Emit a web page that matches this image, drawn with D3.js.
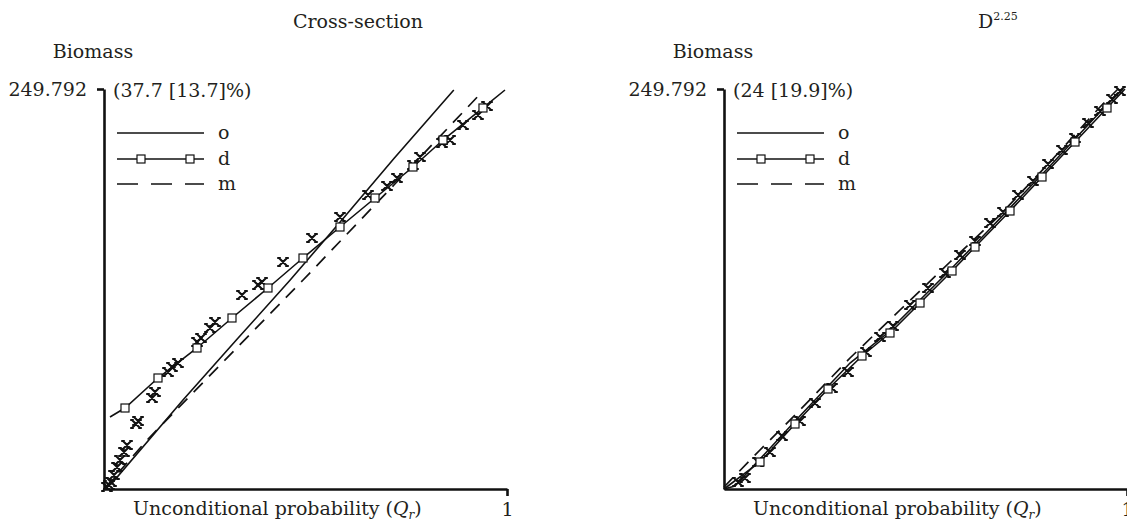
<!DOCTYPE html>
<html>
<head>
<meta charset="utf-8">
<script src="https://cdn.jsdelivr.net/npm/d3@7"></script>
<style>
  html, body { margin: 0; padding: 0; background: #fff; }
  svg text { font-family: "DejaVu Serif", "Liberation Serif", serif; fill: #231f20; }
</style>
</head>
<body>
<svg id="chart" width="1127" height="522"></svg>
<script>
// ---- data: [probability Q_r, biomass] ----
const yMax = 249.792;
const panelTitles = ["Cross-section", "D"];
const panelTitleSup = ["", "2.25"];
const panelStats = ["(37.7 [13.7]%)", "(24 [19.9]%)"];
const seriesNames = ["o", "d", "m"];
const xTickLabels = ["1"];

// Cross-section panel
const csObserved = [[0,0],[0.020,3.7],[0.196,55.6],[0.33,93.5],[0.462,130.5],[0.586,166.8],[0.72,206.5],[0.868,249.2]];
const csDist = [[0.0149,44.96],[0.0521,50.58],[0.1340,69.32],[0.2308,88.05],[0.3176,106.79],[0.4069,125.52],[0.4938,144.25],[0.5856,163.61],[0.6725,181.72],[0.7667,201.08],[0.8412,217.94],[0.9404,237.93],[0.9950,249.17]];
const csModel = [[0,0],[0.107,30.6],[0.300,80.5],[0.494,130.5],[0.720,190.0],[0.938,247.9]];
const csPoints = [[0.0074,1.25],[0.0124,2.50],[0.0174,4.37],[0.0248,8.74],[0.0323,13.74],[0.0397,18.11],[0.0496,23.11],[0.0571,27.48],[0.0794,40.59],[0.0844,42.46],[0.1191,56.83],[0.1266,60.57],[0.1588,73.06],[0.1687,76.19],[0.1836,78.68],[0.2308,91.80],[0.2407,94.30],[0.2630,100.54],[0.2754,104.29],[0.3424,121.15],[0.3821,127.39],[0.3921,129.27],[0.4442,141.76],[0.5161,156.74],[0.5856,169.86],[0.6551,183.60],[0.7022,189.22],[0.7270,194.21],[0.7667,202.33],[0.7841,207.33],[0.8387,216.07],[0.8586,217.94],[0.8908,227.31],[0.9280,233.56],[0.9504,239.18]];

// D^2.25 panel
const dObserved = [[0,0],[0.0273,1.87],[0.1836,44.34],[0.3127,78.68],[0.3995,96.17],[0.5608,136.76],[0.6526,160.49],[0.8089,201.71],[0.9330,235.43],[0.9901,249.79]];
const dDist = [[0,0],[0.0893,16.86],[0.1762,40.59],[0.2581,62.45],[0.3424,83.06],[0.4119,97.42],[0.4864,116.15],[0.5658,136.14],[0.6228,151.12],[0.7097,173.61],[0.7891,194.84],[0.8710,216.69],[0.9504,237.93],[0.9950,249.79]];
const dModel = [[0,1.25],[0.0893,24.35],[0.1886,49.33],[0.3127,81.81],[0.4367,111.78],[0.5608,141.76],[0.6849,171.11],[0.8089,204.20],[0.9330,238.55],[0.9777,249.79]];
const dPoints = [[0.0347,4.37],[0.0521,6.87],[0.0844,16.86],[0.1141,23.11],[0.1439,33.10],[0.1886,42.46],[0.2258,53.71],[0.2680,63.07],[0.3077,73.06],[0.3524,85.55],[0.3871,94.92],[0.4194,101.79],[0.4615,114.90],[0.5062,125.52],[0.5484,134.89],[0.5856,146.13],[0.6228,154.87],[0.6600,166.11],[0.6923,172.98],[0.7295,183.60],[0.7667,192.34],[0.8040,202.96],[0.8387,211.70],[0.8710,219.19],[0.9032,228.56],[0.9330,236.05],[0.9628,243.55],[0.9826,248.54]];

const panels = [
  { title: panelTitles[0], sup: panelTitleSup[0], stat: panelStats[0], obs: csObserved, dist: csDist, model: csModel, pts: csPoints, offset: 0, titleX: 358 },
  { title: panelTitles[1], sup: panelTitleSup[1], stat: panelStats[1], obs: dObserved, dist: dDist, model: dModel, pts: dPoints, offset: 620, titleX: 358 }
];

const svg = d3.select("#chart");
const FS = 19;

// serif-style "X" marker with short caps
function crossPath(s) {
  const c = 1.8;
  return `M${-s},${-s}L${s},${s}M${s},${-s}L${-s},${s}` +
         `M${-s-c},${-s}L${-s+c},${-s}M${s-c},${-s}L${s+c},${-s}` +
         `M${-s-c},${s}L${-s+c},${s}M${s-c},${s}L${s+c},${s}`;
}

panels.forEach(p => {
  const g = svg.append("g").attr("transform", `translate(${p.offset},0)`);
  const x = d3.scaleLinear().domain([0, 1]).range([104, 507]);
  const y = d3.scaleLinear().domain([0, yMax]).range([489, 89]);
  const line = d3.line().x(d => x(d[0])).y(d => y(d[1]));

  // title
  const t = g.append("text").attr("x", p.titleX).attr("y", 28).attr("font-size", FS);
  if (p.sup) {
    t.attr("text-anchor", "start").text(p.title);
    t.append("tspan").attr("font-size", 11).attr("dy", -8).text(p.sup);
  } else {
    t.attr("text-anchor", "middle").text(p.title);
  }

  g.append("text").attr("x", 93).attr("y", 58).attr("text-anchor", "middle")
    .attr("font-size", FS).text("Biomass");

  g.append("text").attr("x", 113).attr("y", 97).attr("font-size", FS).text(p.stat);

  // axes
  const yAxis = d3.axisLeft(y).tickValues([yMax]).tickFormat(() => "249.792")
    .tickSize(7).tickSizeOuter(0).tickPadding(10);
  const ya = g.append("g").attr("transform", "translate(104,0)").call(yAxis);
  ya.select(".domain").attr("stroke", "#111").attr("stroke-width", 2.6);
  ya.selectAll(".tick line").attr("stroke", "#111").attr("stroke-width", 2.6);
  ya.selectAll(".tick text").attr("font-size", FS).attr("font-family", "DejaVu Serif").attr("fill", "#231f20");

  const xAxis = d3.axisBottom(x).tickValues([1]).tickFormat((d, i) => xTickLabels[i])
    .tickSize(7).tickSizeOuter(0).tickPadding(7);
  const xa = g.append("g").attr("transform", "translate(0,489)").call(xAxis);
  xa.select(".domain").attr("stroke", "#111").attr("stroke-width", 2.6);
  xa.selectAll(".tick line").attr("stroke", "#111").attr("stroke-width", 2.6);
  xa.selectAll(".tick text").attr("font-size", FS).attr("font-family", "DejaVu Serif").attr("fill", "#231f20");

  const xl = g.append("text").attr("x", 133).attr("y", 515).attr("font-size", FS)
    .text("Unconditional probability (");
  xl.append("tspan").attr("font-style", "italic").text("Q");
  xl.append("tspan").attr("font-style", "italic").attr("font-size", 12).attr("dy", 4).text("r");
  xl.append("tspan").attr("dy", -4).text(")");

  // series lines
  g.append("path").datum(p.model).attr("d", line).attr("fill", "none")
    .attr("stroke", "#111").attr("stroke-width", 1.7).attr("stroke-dasharray", "13,9");
  g.append("path").datum(p.obs).attr("d", line).attr("fill", "none")
    .attr("stroke", "#111").attr("stroke-width", 1.6);
  g.append("path").datum(p.dist).attr("d", line).attr("fill", "none")
    .attr("stroke", "#111").attr("stroke-width", 1.6);

  // data points
  g.append("g").selectAll("path").data(p.pts).join("path")
    .attr("transform", d => `translate(${x(d[0])},${y(d[1])})`)
    .attr("d", crossPath(4)).attr("fill", "none")
    .attr("stroke", "#111").attr("stroke-width", 2.1);

  // squares on the d series (interior points)
  g.append("g").selectAll("rect").data(p.dist.slice(1, -1)).join("rect")
    .attr("x", d => x(d[0]) - 4).attr("y", d => y(d[1]) - 4)
    .attr("width", 8).attr("height", 8)
    .attr("fill", "#fff").attr("stroke", "#111").attr("stroke-width", 1.2);

  // legend
  const lg = g.append("g");
  const rows = [133, 159, 184];
  lg.append("line").attr("x1", 117).attr("x2", 204).attr("y1", rows[0]).attr("y2", rows[0])
    .attr("stroke", "#111").attr("stroke-width", 1.5);
  lg.append("line").attr("x1", 117).attr("x2", 204).attr("y1", rows[1]).attr("y2", rows[1])
    .attr("stroke", "#111").attr("stroke-width", 1.5);
  [141, 190].forEach(cx => lg.append("rect").attr("x", cx - 4).attr("y", rows[1] - 4)
    .attr("width", 8).attr("height", 8).attr("fill", "#fff").attr("stroke", "#111").attr("stroke-width", 1.2));
  lg.append("line").attr("x1", 117).attr("x2", 204).attr("y1", rows[2]).attr("y2", rows[2])
    .attr("stroke", "#111").attr("stroke-width", 1.6).attr("stroke-dasharray", "21,13");
  seriesNames.forEach((n, i) => lg.append("text").attr("x", 218).attr("y", rows[i] + 6)
    .attr("font-size", FS).text(n));
});
</script>
</body>
</html>
